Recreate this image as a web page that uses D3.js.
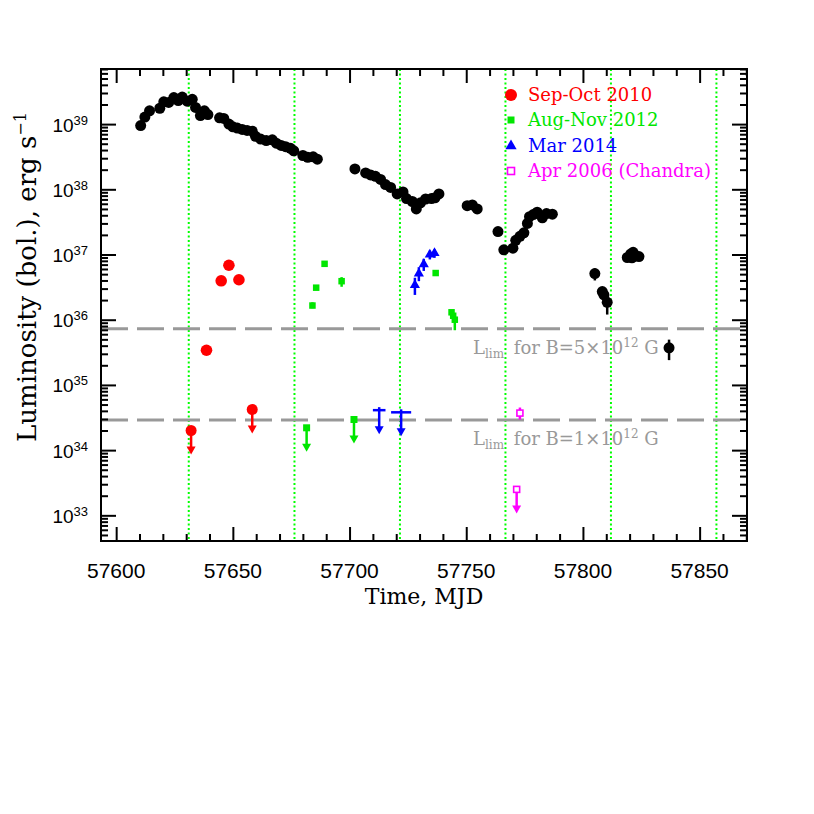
<!DOCTYPE html>
<html>
<head>
<meta charset="utf-8">
<script src="https://cdn.jsdelivr.net/npm/d3@7"></script>
<style>
  body { margin: 0; background: #fff; }
  text { fill: #000; }
</style>
</head>
<body>
<div id="chart"></div>
<script>
// ---- data (MJD, luminosity erg/s, [err low, err high]) ----
const blackPoints = [
  [57610.5, 9.5e38], [57612.3, 1.28e39], [57614.3, 1.6e39], [57618.7, 1.75e39],
  [57620.4, 2.2e39], [57622.5, 2.15e39], [57624.7, 2.55e39], [57626.6, 2.3e39],
  [57628.3, 2.6e39], [57630.4, 2.25e39], [57632.6, 2.4e39], [57634.0, 1.8e39],
  [57636.1, 1.35e39], [57637.8, 1.6e39], [57639.3, 1.4e39], [57644.3, 1.25e39],
  [57646.1, 1.22e39], [57648.3, 1.0e39], [57650.0, 9.1e38], [57651.9, 8.7e38],
  [57654.0, 8.3e38], [57656.1, 8.0e38], [57658.3, 7.8e38], [57659.7, 6.5e38],
  [57661.9, 5.9e38], [57664.3, 5.6e38], [57666.9, 5.75e38], [57668.6, 5.1e38],
  [57670.7, 4.7e38], [57672.6, 4.5e38], [57674.7, 4.25e38], [57676.1, 3.9e38],
  [57680.0, 3.3e38], [57682.1, 3.1e38], [57684.4, 3.15e38], [57686.2, 2.9e38],
  [57702.3, 2.05e38], [57706.9, 1.78e38], [57709.0, 1.66e38], [57711.1, 1.58e38],
  [57713.3, 1.42e38], [57715.4, 1.18e38], [57717.6, 1.07e38], [57720.4, 8.5e37],
  [57722.9, 9.1e37], [57724.4, 7.2e37], [57726.9, 6.5e37], [57728.6, 5.0e37],
  [57730.4, 6.2e37], [57732.6, 7.1e37], [57735.1, 7.2e37], [57736.6, 7.4e37],
  [57738.3, 8.5e37], [57750.4, 5.6e37], [57752.6, 5.75e37], [57754.7, 5.0e37],
  [57763.6, 2.25e37], [57766.1, 1.18e37], [57770.0, 1.25e37], [57771.2, 1.65e37],
  [57773.0, 1.9e37], [57774.7, 2.15e37], [57776.2, 3.0e37], [57777.1, 3.8e37],
  [57778.7, 4.1e37], [57780.4, 4.45e37], [57782.6, 3.65e37], [57784.4, 4.25e37],
  [57786.9, 4.15e37],
  [57805.1, 5.1e36, 4.0e36, 6.1e36], [57808.3, 2.7e36, 2.4e36, 3.0e36],
  [57809.0, 2.4e36], [57810.4, 1.85e36, 1.2e36, 2.25e36],
  [57819.0, 9.0e36], [57820.5, 1.02e37], [57821.0, 8.9e36], [57821.5, 1.08e37],
  [57822.5, 9.5e36], [57824.0, 9.3e36],
  [57836.9, 3.7e35, 2.4e35, 4.95e35]
];
const redPoints = [
  [57648.3, 6.85e36], [57645.0, 3.95e36], [57652.6, 4.1e36],
  [57638.7, 3.4e35, 3.0e35, 3.9e35]
];
const greenPoints = [
  [57689.3, 7.2e36], [57685.7, 3.1e36], [57684.1, 1.65e36, 1.5e36, 1.85e36],
  [57696.6, 3.9e36, 3.2e36, 4.5e36], [57736.9, 5.2e36],
  [57743.7, 1.3e36], [57744.4, 1.15e36], [57745.1, 1.0e36, 6.9e35, 1.15e36]
];
const bluePoints = [
  [57728.0, 3.4e36, 2.4e36, 4.4e36], [57729.7, 5.1e36, 3.9e36, 6.4e36],
  [57731.8, 7.1e36, 5.6e36, 8.6e36], [57734.4, 1.0e37, 8.4e36, 1.15e37],
  [57736.4, 1.05e37, 8.9e36, 1.2e37]
];
const magentaPoints = [[57773.0, 3.7e34, 2.95e34, 4.5e34]];

// upper limits: MJD, luminosity, half-width of the time bar (days)
const redLimits = [[57632.1, 2.0e34, 2.1], [57658.3, 4.2e34, 0]];
const greenLimits = [[57681.6, 2.2e34, 0], [57701.9, 2.95e34, 0]];
const blueLimits = [[57712.7, 4.1e34, 2.7], [57722.1, 3.8e34, 4.3]];
const magentaLimits = [[57771.6, 2.5e33, 0]];

const orbitLines = [57631.1, 57676.4, 57721.6, 57766.8, 57812.0, 57857.2];
const limitLevels = [7.3e35, 2.9e34];
const limitFields = ["5", "1"];

const xTicks = [57600, 57650, 57700, 57750, 57800, 57850];
const yExponents = [33, 34, 35, 36, 37, 38, 39];
const legendLabels = ["Sep-Oct 2010", "Aug-Nov 2012", "Mar 2014", "Apr 2006 (Chandra)"];
const legendColors = ["#ff0000", "#00e600", "#0000ff", "#ff00ff"];

// ---- layout ----
const W = 814, H = 814;
const box = {left: 101, right: 747, top: 69, bottom: 541};
const serif = "'DejaVu Serif', serif";
const sans = "'Liberation Sans', Arial, sans-serif";

const svg = d3.select("#chart").append("svg")
  .attr("width", W).attr("height", H);

const x = d3.scaleLinear().domain([57593.5, 57870.3]).range([box.left, box.right]);
const y = d3.scaleLog().domain([4.04e32, 7e39]).range([box.bottom, box.top]);

// minor tick values
const xMinor = d3.range(57600, 57871, 10).filter(v => v % 50 !== 0);
const yMinor = [];
for (let e = 32; e <= 39; e++) {
  for (let m = 2; m <= 9; m++) {
    const v = m * Math.pow(10, e);
    if (v >= 4.04e32 && v <= 7e39) yMinor.push(v);
  }
}
const yMajor = yExponents.map(e => Math.pow(10, e));

// ---- reference lines (behind the data) ----
svg.append("g").selectAll("line")
  .data(orbitLines).enter().append("line")
  .attr("x1", d => x(d)).attr("x2", d => x(d))
  .attr("y1", box.top).attr("y2", box.bottom)
  .attr("stroke", "#00ff00").attr("stroke-width", 2)
  .attr("stroke-dasharray", "2,2.5");

svg.append("g").selectAll("line")
  .data(limitLevels).enter().append("line")
  .attr("x1", box.left).attr("x2", box.right)
  .attr("y1", d => y(d)).attr("y2", d => y(d))
  .attr("stroke", "#999").attr("stroke-width", 3)
  .attr("stroke-dasharray", "27,9");

// L_lim labels
limitLevels.forEach((lv, i) => {
  const t = svg.append("text")
    .attr("x", 473).attr("y", y(lv) + 25)
    .style("font-family", serif).style("font-size", "18px")
    .style("fill", "#999");
  t.append("tspan").text("L");
  t.append("tspan").attr("dy", 4).style("font-size", "12px").text("lim");
  t.append("tspan").attr("dy", -4).attr("dx", 4).text(" for B=" + limitFields[i] + "\u00d710");
  t.append("tspan").attr("dy", -7).style("font-size", "12px").text("12");
  t.append("tspan").attr("dy", 7).text(" G");
});

// ---- axes ----
function axisGroup(axisFn, scale, vals, size, transform) {
  svg.append("g").attr("transform", transform)
    .call(axisFn(scale).tickValues(vals).tickSize(size).tickFormat(""))
    .call(g => g.select(".domain").remove())
    .call(g => g.selectAll("line").attr("stroke", "#000").attr("stroke-width", 2));
}
axisGroup(d3.axisBottom, x, xTicks, -14, `translate(0,${box.bottom})`);
axisGroup(d3.axisBottom, x, xMinor, -7, `translate(0,${box.bottom})`);
axisGroup(d3.axisTop, x, xTicks, -14, `translate(0,${box.top})`);
axisGroup(d3.axisTop, x, xMinor, -7, `translate(0,${box.top})`);
axisGroup(d3.axisLeft, y, yMajor, -15, `translate(${box.left},0)`);
axisGroup(d3.axisLeft, y, yMinor, -7, `translate(${box.left},0)`);
axisGroup(d3.axisRight, y, yMajor, -15, `translate(${box.right},0)`);
axisGroup(d3.axisRight, y, yMinor, -7, `translate(${box.right},0)`);

svg.append("rect")
  .attr("x", box.left).attr("y", box.top)
  .attr("width", box.right - box.left).attr("height", box.bottom - box.top)
  .attr("fill", "none").attr("stroke", "#000").attr("stroke-width", 2);

// tick labels
svg.append("g").selectAll("text")
  .data(xTicks).enter().append("text")
  .attr("x", d => x(d)).attr("y", box.bottom + 37)
  .attr("text-anchor", "middle")
  .style("font-family", sans).style("font-size", "21px")
  .text(d => d);

yExponents.forEach(e => {
  const t = svg.append("text")
    .attr("x", 88).attr("y", y(Math.pow(10, e)) + 7.5)
    .attr("text-anchor", "end")
    .style("font-family", sans).style("font-size", "19px");
  t.append("tspan").text("10");
  t.append("tspan").attr("dy", -7).style("font-size", "13px").text(e);
});

// axis titles
svg.append("text")
  .attr("x", (box.left + box.right) / 2).attr("y", 604)
  .attr("text-anchor", "middle")
  .style("font-family", serif).style("font-size", "22px")
  .text("Time, MJD");

const yt = svg.append("text")
  .attr("transform", "translate(36,277) rotate(-90)")
  .attr("text-anchor", "middle")
  .style("font-family", serif).style("font-size", "26px");
yt.append("tspan").text("Luminosity (bol.), erg s");
yt.append("tspan").attr("dy", -10).style("font-size", "16px").text("\u22121");

// ---- markers ----
const plot = svg.append("g");

function errorBars(data, color) {
  plot.append("g").selectAll("line")
    .data(data.filter(d => d.length > 2)).enter().append("line")
    .attr("x1", d => x(d[0])).attr("x2", d => x(d[0]))
    .attr("y1", d => y(d[2])).attr("y2", d => y(d[3]))
    .attr("stroke", color).attr("stroke-width", 2.5);
}

function circles(data, color, r) {
  errorBars(data, color);
  plot.append("g").selectAll("circle")
    .data(data).enter().append("circle")
    .attr("cx", d => x(d[0])).attr("cy", d => y(d[1]))
    .attr("r", r).attr("fill", color);
}

function squares(data, color, s, open) {
  errorBars(data, color);
  plot.append("g").selectAll("rect")
    .data(data).enter().append("rect")
    .attr("x", d => x(d[0]) - s / 2).attr("y", d => y(d[1]) - s / 2)
    .attr("width", s).attr("height", s)
    .attr("fill", open ? "#fff" : color)
    .attr("stroke", open ? color : "none").attr("stroke-width", 1.6);
}

function triangles(data, color, s) {
  errorBars(data, color);
  const sym = d3.symbol().type(d3.symbolTriangle).size(s);
  plot.append("g").selectAll("path")
    .data(data).enter().append("path")
    .attr("d", sym)
    .attr("transform", d => `translate(${x(d[0])},${y(d[1])})`)
    .attr("fill", color);
}

function limits(data, color, marker) {
  const g = plot.append("g");
  data.forEach(d => {
    const cx = x(d[0]), cy = y(d[1]);
    g.append("line").attr("x1", cx).attr("x2", cx)
      .attr("y1", marker === "bar" ? cy - 3 : cy).attr("y2", cy + 18)
      .attr("stroke", color).attr("stroke-width", 2.5);
    g.append("path")
      .attr("d", `M${cx - 4.5},${cy + 16} L${cx + 4.5},${cy + 16} L${cx},${cy + 24} Z`)
      .attr("fill", color);
    if (d[2] > 0) {
      g.append("line")
        .attr("x1", x(d[0] - d[2])).attr("x2", x(d[0] + d[2]))
        .attr("y1", cy).attr("y2", cy)
        .attr("stroke", color).attr("stroke-width", 2.5);
    }
    if (marker === "circle") {
      g.append("circle").attr("cx", cx).attr("cy", cy).attr("r", 5.5).attr("fill", color);
    } else if (marker === "square") {
      g.append("rect").attr("x", cx - 3.5).attr("y", cy - 3.5)
        .attr("width", 7).attr("height", 7).attr("fill", color);
    } else if (marker === "open") {
      g.append("rect").attr("x", cx - 3).attr("y", cy - 3)
        .attr("width", 6).attr("height", 6).attr("fill", "#fff")
        .attr("stroke", color).attr("stroke-width", 1.6);
    }
  });
}

circles(blackPoints, "#000", 5.5);
circles(redPoints, "#ff0000", 5.8);
squares(greenPoints, "#00e600", 6.5, false);
triangles(bluePoints, "#0000ff", 45);
squares(magentaPoints, "#ff00ff", 6, true);

limits(redLimits, "#ff0000", "circle");
limits(greenLimits, "#00e600", "square");
limits(blueLimits, "#0000ff", "bar");
limits(magentaLimits, "#ff00ff", "open");

// ---- legend ----
const legendY = [95, 120, 146, 171];
const lg = svg.append("g");
legendLabels.forEach((lab, i) => {
  const cy = legendY[i], cx = 511, c = legendColors[i];
  if (i === 0) lg.append("circle").attr("cx", cx).attr("cy", cy).attr("r", 6).attr("fill", c);
  if (i === 1) lg.append("rect").attr("x", cx - 3.5).attr("y", cy - 3.5).attr("width", 7).attr("height", 7).attr("fill", c);
  if (i === 2) lg.append("path").attr("d", d3.symbol().type(d3.symbolTriangle).size(55))
    .attr("transform", `translate(${cx},${cy})`).attr("fill", c);
  if (i === 3) lg.append("rect").attr("x", cx - 3.5).attr("y", cy - 3.5).attr("width", 7).attr("height", 7)
    .attr("fill", "#fff").attr("stroke", c).attr("stroke-width", 1.6);
  lg.append("text")
    .attr("x", 528).attr("y", cy + 6)
    .style("font-family", serif).style("font-size", "18px")
    .style("fill", c)
    .text(lab);
});
</script>
</body>
</html>
